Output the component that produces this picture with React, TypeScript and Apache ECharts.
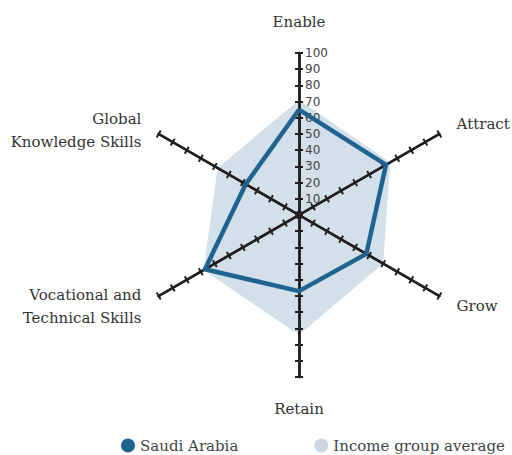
import React, { useEffect, useRef } from "react";
import * as echarts from "echarts";

const indicators = [
  "Enable",
  "Global\nKnowledge Skills",
  "Vocational and\nTechnical Skills",
  "Retain",
  "Grow",
  "Attract",
];
const saudiArabia = [65, 38, 67, 47, 48, 62];
const incomeGroupAverage = [71, 58, 68, 74, 60, 65];
const seriesNames = ["Saudi Arabia", "Income group average"];
const axisMax = 100;
const tickStep = 10;

const AXIS_COLOR = "#231f20";
const SERIF = "'DejaVu Serif', serif";

export default function App() {
  const ref = useRef<HTMLDivElement>(null);
  useEffect(() => {
    document.body.style.margin = "0";
    const chart = echarts.init(ref.current!, null, { renderer: "svg" });
    const center = [299, 215];
    const radius = 162;
    const nameFont = { color: "#333", fontFamily: SERIF, fontSize: 15, lineHeight: 23 };
    const baseRadar = {
      center,
      radius,
      startAngle: 90,
      splitNumber: axisMax / tickStep,
      shape: "polygon",
      splitLine: { show: false },
      splitArea: { show: false },
      axisLine: { lineStyle: { color: AXIS_COLOR, width: 2.5 } },
      axisLabel: { show: false },
    };
    chart.setOption({
      animation: false,
      legend: {
        data: seriesNames,
        left: 116,
        top: 433,
        icon: "circle",
        itemWidth: 14,
        itemHeight: 14,
        itemGap: 76,
        textStyle: { fontFamily: SERIF, fontSize: 15, color: "#444" },
      },
      radar: [
        {
          ...baseRadar,
          indicator: indicators.map((name) => ({ name, max: axisMax, min: 0 })),
          nameGap: 20,
          axisName: {
            ...nameFont,
            formatter: (name: string) => {
              if (name.indexOf("Global") === 0) {
                const parts = name.split("\n");
                return `{sp| }\n{n|${parts[0]}}\n{n|${parts[1]}}`;
              }
              return name;
            },
            rich: {
              sp: { fontSize: 1, lineHeight: 12 },
              n: { ...nameFont },
            },
          },
          axisTick: { show: true, length: 4, lineStyle: { color: AXIS_COLOR, width: 2 } },
        },
        {
          ...baseRadar,
          indicator: indicators.map(() => ({ name: "", max: axisMax, min: 0 })),
          axisName: { show: false },
          axisTick: { show: true, length: -4, lineStyle: { color: AXIS_COLOR, width: 2 } },
        },
        {
          ...baseRadar,
          indicator: [{ name: "", max: axisMax, min: 0 }],
          axisName: { show: false },
          axisLine: { show: false },
          axisTick: { show: false },
          axisLabel: {
            show: true,
            showMinLabel: false,
            margin: -6,
            align: "left",
            color: "#444",
            fontSize: 12,
            fontFamily: "'DejaVu Sans', sans-serif",
          },
        },
      ],
      series: [
        {
          name: seriesNames[1],
          type: "radar",
          radarIndex: 0,
          z: -1,
          symbol: "none",
          itemStyle: { color: "#ccd6e0" },
          lineStyle: { width: 0, opacity: 0 },
          areaStyle: { color: "#d3dfe9", opacity: 1 },
          data: [{ name: seriesNames[1], value: incomeGroupAverage }],
        },
        {
          name: seriesNames[0],
          type: "radar",
          radarIndex: 0,
          z: 3,
          symbol: "none",
          itemStyle: { color: "#1f6391" },
          lineStyle: { color: "#1f6391", width: 4.5 },
          data: [{ name: seriesNames[0], value: saudiArabia }],
        },
      ],
    });
    return () => chart.dispose();
  }, []);
  return <div ref={ref} style={{ width: 512, height: 455 }} />;
}
